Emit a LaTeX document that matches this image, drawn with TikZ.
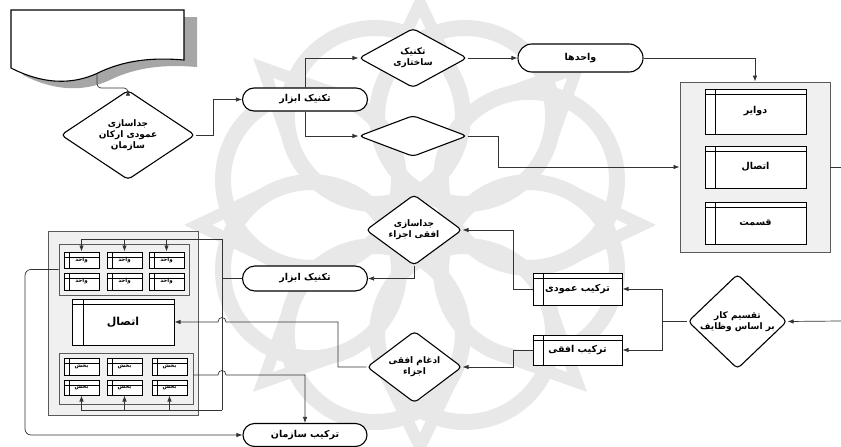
\documentclass[tikz,border=0pt]{standalone}
\usepackage{fontspec}
\TeXXeTstate=1
\newfontfamily\arabicfont[Script=Arabic]{DejaVu Sans}
\usetikzlibrary{shapes.geometric,shapes.misc,arrows.meta}
\newcommand{\fa}[1]{\beginR #1\endR}
\tikzset{
  conn/.style={draw=black!80, line width=0.7pt, -{Latex[length=6pt,width=4.5pt]}},
  plain/.style={draw=black!80, line width=0.7pt},
  dia/.style={diamond, draw, line width=1.1pt, rounded corners=4pt, inner sep=0pt, fill=white,
     font=\arabicfont\bfseries\fontsize{9}{11}\selectfont, align=center},
  rbox/.style={rounded rectangle, draw, line width=1.1pt, fill=white, inner sep=0pt,
     font=\arabicfont\bfseries\fontsize{9.5}{11}\selectfont},
  store/.style={rectangle, draw, line width=1pt, fill=white, inner sep=0pt,
     font=\arabicfont\bfseries\fontsize{9.5}{11}\selectfont,
     path picture={
       \draw[line width=0.6pt] ([xshift=#1]path picture bounding box.north west) -- ([xshift=#1]path picture bounding box.south west);
       \draw[line width=0.6pt] ([yshift=-5pt]path picture bounding box.north west) -- ([yshift=-5pt]path picture bounding box.north east);}},
  store/.default=10pt,
  mini/.style={store=5pt, minimum width=35pt, font=\arabicfont\bfseries\fontsize{5.5}{6}\selectfont},
  frame/.style={rectangle, draw=black!65, line width=0.9pt, fill=black!6, inner sep=0pt},
  wm/.style={draw=black!9, line width=16pt},
}
\begin{document}
\begin{tikzpicture}[x=1pt,y=-1pt]
\useasboundingbox (0,0) rectangle (841,447);
% faint watermark ornament
\begin{scope}
\clip (0,0) rectangle (841,447);
\foreach \a in {22.5,67.5,...,360} {
  \draw[wm] ({420+118*cos(\a)},{225+118*sin(\a)}) circle[radius=88];
}
\foreach \a in {0,45,...,359} {
  \draw[wm, line width=12pt] ({420+150*cos(\a-14)},{225+150*sin(\a-14)}) -- ({420+222*cos(\a)},{225+222*sin(\a)}) -- ({420+150*cos(\a+14)},{225+150*sin(\a+14)});
}
\end{scope}
% document shape with shadow
\fill[black!35] (23,17) -- (197,17) -- (197,67) .. controls (172,65) and (142,65) .. (112,79) .. controls (92,89) and (62,95) .. (23,75) -- cycle;
\draw[line width=1.1pt, fill=white] (11,10) -- (184,10) -- (184,60) .. controls (160,58) and (130,58) .. (100,72) .. controls (80,82) and (50,88) .. (11,68) -- cycle;
\coordinate (docout) at (97,73.5);

% top flow
\node[dia, minimum width=134pt, minimum height=66pt] (d1) at (128,135) {\fa{جداسازی}\\\fa{عمودی ارکان}\\\fa{سازمان}};
\node[rbox, minimum width=125pt, minimum height=23pt] (t1) at (305,99.5) {\fa{تکنیک ابزار}};
\node[dia, minimum width=108pt, minimum height=42pt] (d2) at (413,58) {\fa{تکنیک}\\\fa{ساختاری}};
\node[dia, minimum width=108pt, minimum height=41pt] (d3) at (413,136) {};
\node[rbox, minimum width=125pt, minimum height=28pt] (t2) at (580.5,58) {\fa{واحدها}};

\node[frame, minimum width=150pt, minimum height=170pt] (C1) at (755,167) {};
\node[store, minimum width=101pt, minimum height=45pt] (s1) at (755.5,111.5) {\fa{دوایر}};
\node[store, minimum width=101pt, minimum height=42pt] (s2) at (755.5,167) {\fa{اتصال}};
\node[store, minimum width=101pt, minimum height=42pt] (s3) at (755.5,223) {\fa{قسمت}};

\draw[conn, rounded corners=4pt] (docout) -- (97,88) -| (d1.north);
\draw[conn] (d1.east) -- (213,135) |- (t1.west);
\draw[conn] (t1.north) |- (d2.west);
\draw[conn] (t1.south) |- (d3.west);
\draw[conn] (d2.east) -- (t2.west);
\draw[conn] (t2.east) -| (C1.north);
\draw[conn] (d3.east) -- (498,136) |- (C1.west);
\coordinate (exitR) at (841,167);
\draw[plain] (C1.east) -- (exitR);

% right lower flow
\coordinate (inR) at (841,321);
\node[dia, minimum width=99pt, minimum height=53pt] (d4) at (737.5,321.5) {\fa{تقسیم کار}\\\fa{بر اساس وظایف}};
\node[store, minimum width=89pt, minimum height=32pt] (bA) at (577.5,289) {\fa{ترکیب عمودی}};
\node[store, minimum width=89pt, minimum height=30pt] (bB) at (577.5,350) {\fa{ترکیب افقی}};
\node[dia, minimum width=96pt, minimum height=46pt] (d5) at (414,230) {\fa{جداسازی}\\\fa{افقی اجزاء}};
\node[dia, minimum width=95pt, minimum height=50pt] (d6) at (414.5,367) {\fa{ادغام افقی}\\\fa{اجزاء}};
\node[rbox, minimum width=125pt, minimum height=25pt] (t3) at (305,278.5) {\fa{تکنیک ابزار}};
\node[rbox, minimum width=124pt, minimum height=23pt] (t4) at (305,435) {\fa{ترکیب سازمان}};

\draw[conn] (inR) -- (d4.east);
\draw[conn] (d4.west) -- (662,321.5) |- (bA.east);
\draw[conn] (662,321.5) |- (bB.east);
\draw[conn] (bA.west) -- (513,289) |- (d5.east);
\draw[conn] (bB.west) -- (513,350) |- (d6.east);
\draw[conn] (d5.south) |- (t3.east);

% left container
\node[frame, minimum width=150pt, minimum height=184pt] (L) at (123,323) {};
\node[frame, minimum width=130pt, minimum height=51pt] (T) at (124,269.5) {};
\node[frame, minimum width=134pt, minimum height=51pt] (B) at (126,378.5) {};
\node[mini, minimum height=16pt] (a1) at (81.5,260) {\fa{واحد}};
\node[mini, minimum height=16pt] (a2) at (124.5,260) {\fa{واحد}};
\node[mini, minimum height=16pt] (a3) at (166.5,260) {\fa{واحد}};
\node[mini, minimum height=17pt] (a4) at (81.5,281.5) {\fa{واحد}};
\node[mini, minimum height=17pt] (a5) at (124.5,281.5) {\fa{واحد}};
\node[mini, minimum height=17pt] (a6) at (166.5,281.5) {\fa{واحد}};
\node[store=11pt, minimum width=102pt, minimum height=46pt, font=\arabicfont\bfseries\fontsize{11}{13}\selectfont] (M) at (123,322) {\fa{اتصال}};
\node[mini, minimum height=17pt] (b1) at (81.5,366.5) {\fa{بخش}};
\node[mini, minimum height=17pt] (b2) at (124.5,366.5) {\fa{بخش}};
\node[mini, minimum height=17pt] (b3) at (169.5,366.5) {\fa{بخش}};
\node[mini, minimum height=15pt] (b4) at (81.5,387.5) {\fa{بخش}};
\node[mini, minimum height=15pt] (b5) at (124.5,387.5) {\fa{بخش}};
\node[mini, minimum height=15pt] (b6) at (169.5,387.5) {\fa{بخش}};

\coordinate (busT) at (222,239);
\coordinate (busB) at (222,410);
\draw[plain] (t3.west) -- (222,278.5);
\draw[plain] (busT) -- (busB);
\draw[conn] (busT) -| (a1.north);
\draw[conn] (a2.north |- busT) -- (a2.north);
\draw[conn] (a3.north |- busT) -- (a3.north);
\draw[conn] (busB) -| (b4.south);
\draw[conn] (b5.south |- busB) -- (b5.south);
\draw[conn] (b6.south |- busB) -- (b6.south);

\draw[conn, rounded corners=6pt] (T.west) -- (25,269.5) |- (t4.west);
\draw[conn] (B.east |- 0,375) -- (218,375) .. controls (218,369) and (226,369) .. (226,375) -| (t4.north);
\draw[conn] (d6.west) -- (338,367) -- (338,322) -- (226,322) .. controls (226,316) and (218,316) .. (218,322) -- (M.east);
\end{tikzpicture}
\end{document}
